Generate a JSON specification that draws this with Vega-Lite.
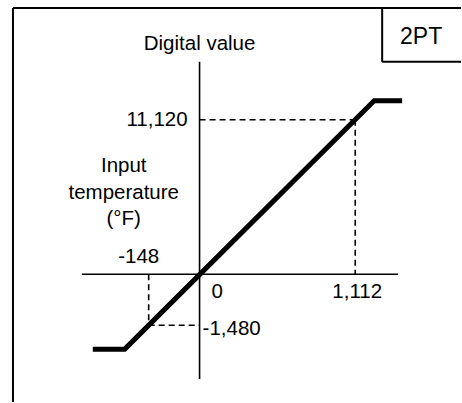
{
  "$schema": "https://vega.github.io/schema/vega-lite/v6.json",
  "width": 462,
  "height": 403,
  "autosize": {"type": "fit", "contains": "padding"},
  "padding": 0,
  "background": "white",
  "config": {"view": {"stroke": null}},
  "datasets": {
    "frame": [
      {"x": -187, "x2": -187, "y": 267, "y2": -128},
      {"x": -187, "x2": 262, "y": 267, "y2": 267},
      {"x": 183, "x2": 183, "y": 267, "y2": 213},
      {"x": 183, "x2": 262, "y": 213, "y2": 213}
    ],
    "axes": [
      {"x": 0, "x2": 0, "y": 213, "y2": -105},
      {"x": -118, "x2": 199, "y": 0, "y2": 0}
    ],
    "guides": [
      {"x": 0, "x2": 156, "y": 155, "y2": 155},
      {"x": 156, "x2": 156, "y": 155, "y2": 0},
      {"x": -51, "x2": -51, "y": 0, "y2": -51},
      {"x": -51, "x2": 0, "y": -51, "y2": -51}
    ],
    "curve": [
      {"x": -107, "y": -75, "order": 1},
      {"x": -75, "y": -75, "order": 2},
      {"x": 175, "y": 174, "order": 3},
      {"x": 203, "y": 174, "order": 4}
    ],
    "labels_center": [
      {"x": 0, "y": 231, "label": "Digital value"},
      {"x": -76, "y": 109, "label": "Input"},
      {"x": -76, "y": 82, "label": "temperature"},
      {"x": -76, "y": 55, "label": "(°F)"},
      {"x": -61, "y": 17, "label": "-148"},
      {"x": 158, "y": -18, "label": "1,112"}
    ],
    "title_box": [
      {"x": 222, "y": 238, "label": "2PT"}
    ],
    "labels_left": [
      {"x": 12, "y": -18, "label": "0"},
      {"x": 3, "y": -55, "label": "-1,480"}
    ],
    "labels_right": [
      {"x": -12, "y": 155, "label": "11,120"}
    ]
  },
  "layer": [
    {
      "data": {"name": "frame"},
      "mark": {"type": "rule", "color": "black", "strokeWidth": 2},
      "encoding": {
        "x": {"field": "x", "type": "quantitative", "scale": {"domain": [-200, 262], "nice": false, "zero": false}, "axis": null},
        "x2": {"field": "x2"},
        "y": {"field": "y", "type": "quantitative", "scale": {"domain": [-128, 275], "nice": false, "zero": false}, "axis": null},
        "y2": {"field": "y2"}
      }
    },
    {
      "data": {"name": "axes"},
      "mark": {"type": "rule", "color": "black", "strokeWidth": 1.6},
      "encoding": {
        "x": {"field": "x", "type": "quantitative"},
        "x2": {"field": "x2"},
        "y": {"field": "y", "type": "quantitative"},
        "y2": {"field": "y2"}
      }
    },
    {
      "data": {"name": "guides"},
      "mark": {"type": "rule", "color": "black", "strokeWidth": 1.6, "strokeDash": [6, 4]},
      "encoding": {
        "x": {"field": "x", "type": "quantitative"},
        "x2": {"field": "x2"},
        "y": {"field": "y", "type": "quantitative"},
        "y2": {"field": "y2"}
      }
    },
    {
      "data": {"name": "curve"},
      "mark": {"type": "line", "color": "black", "strokeWidth": 5, "strokeJoin": "miter", "strokeCap": "butt"},
      "encoding": {
        "x": {"field": "x", "type": "quantitative"},
        "y": {"field": "y", "type": "quantitative"},
        "order": {"field": "order"}
      }
    },
    {
      "data": {"name": "labels_center"},
      "mark": {"type": "text", "align": "center", "baseline": "middle", "font": "Liberation Sans", "fontSize": 20.5, "color": "black"},
      "encoding": {
        "x": {"field": "x", "type": "quantitative"},
        "y": {"field": "y", "type": "quantitative"},
        "text": {"field": "label"}
      }
    },
    {
      "data": {"name": "title_box"},
      "mark": {"type": "text", "align": "center", "baseline": "middle", "font": "Liberation Sans", "fontSize": 23, "color": "black"},
      "encoding": {
        "x": {"field": "x", "type": "quantitative"},
        "y": {"field": "y", "type": "quantitative"},
        "text": {"field": "label"}
      }
    },
    {
      "data": {"name": "labels_left"},
      "mark": {"type": "text", "align": "left", "baseline": "middle", "font": "Liberation Sans", "fontSize": 20.5, "color": "black"},
      "encoding": {
        "x": {"field": "x", "type": "quantitative"},
        "y": {"field": "y", "type": "quantitative"},
        "text": {"field": "label"}
      }
    },
    {
      "data": {"name": "labels_right"},
      "mark": {"type": "text", "align": "right", "baseline": "middle", "font": "Liberation Sans", "fontSize": 20.5, "color": "black"},
      "encoding": {
        "x": {"field": "x", "type": "quantitative"},
        "y": {"field": "y", "type": "quantitative"},
        "text": {"field": "label"}
      }
    }
  ]
}
